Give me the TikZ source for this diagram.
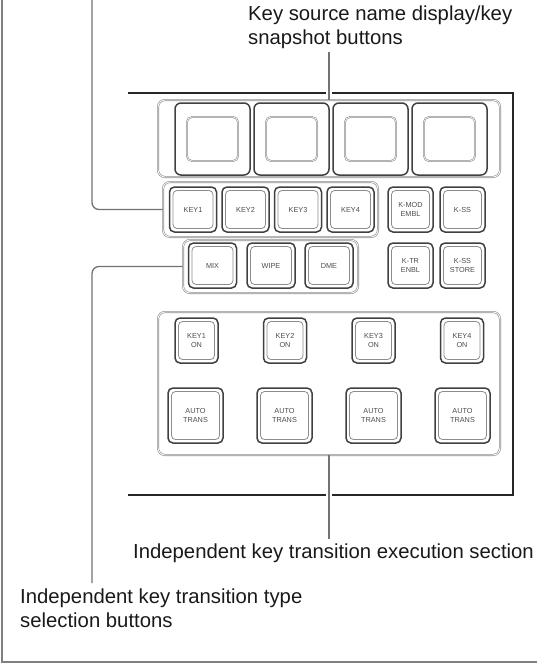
\documentclass[tikz,border=0pt]{standalone}
\usepackage{fontspec}
\setmainfont{Liberation Sans}

\tikzset{
  lbl/.style={font=\fontsize{20.3}{23.5}\selectfont, inner sep=0pt, align=left, text=black!90},
  lead/.style={draw=black!55, line width=1.3pt, preaction={draw=white, line width=6pt, shorten <=3pt, shorten >=3pt}},
  frame/.style={draw=black!85, line width=2.3pt},
  grp/.style={draw=black!45, double=white, double distance=0.8pt, line width=0.6pt, rounded corners=7pt, inner sep=0pt},
  btn/.style={draw=black!75, line width=1.5pt, rounded corners=5pt, inner sep=0pt, align=center,
    font=\fontsize{7.3}{8.3}\selectfont, text=black!70,
    path picture={\draw[black!45, line width=0.8pt, rounded corners=4pt]
      ([shift={(3.5pt,-3.5pt)}]path picture bounding box.north west) rectangle
      ([shift={(-3.5pt,3.5pt)}]path picture bounding box.south east);}},
  dispbtn/.style={draw=black!75, line width=1.5pt, rounded corners=6pt, inner sep=0pt,
    minimum width=75pt, minimum height=72pt,
    path picture={\draw[black!45, double=white, double distance=0.6pt, line width=0.6pt, rounded corners=5pt]
      ([shift={(12pt,-14pt)}]path picture bounding box.north west) rectangle
      ([shift={(-12pt,14pt)}]path picture bounding box.south east);}},
}

\begin{document}
\begin{tikzpicture}[x=1pt, y=-1pt]
  \useasboundingbox (0,0) rectangle (537,665);
  % page edge and panel outline
  \draw[draw=black!50, line width=1.4pt] (2,0) -- (2,662) -- (537,662);
  \draw[frame] (128,93) -- (513,93) -- (513,495) -- (128,495);

  % labels
  \node[lbl, anchor=north west] (srclbl) at (248,6) {Key source name display/key\\snapshot buttons};
  \node[lbl, anchor=north west] (execlbl) at (133,544) {Independent key transition execution section};
  \node[lbl, anchor=north west] (typelbl) at (20,589) {Independent key transition type\\selection buttons};

  % groups
  \node[grp, minimum width=342pt, minimum height=77pt] (dispgrp) at (329,138.5) {};
  \node[grp, minimum width=215pt, minimum height=55pt] (keygrp) at (270.5,209.5) {};
  \node[grp, minimum width=175pt, minimum height=53pt] (mixgrp) at (270.5,266.5) {};
  \node[grp, minimum width=342pt, minimum height=143pt] (execgrp) at (329,383.5) {};

  % leaders
  \coordinate (keytop) at (92,0);
  \coordinate (typetop) at (92,583);
  \draw[lead] ([yshift=-3pt]dispgrp.north |- srclbl.south) -- (dispgrp.north);
  \draw[lead] (execgrp.south) -- ([yshift=5pt]execgrp.south |- execlbl.north);
  \draw[lead, rounded corners=7pt] (keytop) |- (keygrp.west);
  \draw[lead, rounded corners=7pt] (typetop) |- (mixgrp.west);

  % display buttons
  \foreach \i/\x in {1/212.5, 2/291.5, 3/370.5, 4/449.5}
    \node[dispbtn] (disp\i) at (\x,139) {};

  % key select row
  \foreach \i/\x in {1/193, 2/245.5, 3/298, 4/350.5}
    \node[btn, minimum width=47pt, minimum height=45pt] (key\i) at (\x,209.5) {KEY\i};
  \node[btn, minimum width=45pt, minimum height=45pt] (kmod) at (410.5,209.5) {K-MOD\\EMBL};
  \node[btn, minimum width=45pt, minimum height=45pt] (kss) at (462.5,209.5) {K-SS};

  % transition type row
  \node[btn, minimum width=48pt, minimum height=45pt] (mix) at (212.5,265.5) {MIX};
  \node[btn, minimum width=48pt, minimum height=45pt] (wipe) at (271,265.5) {WIPE};
  \node[btn, minimum width=48pt, minimum height=45pt] (dme) at (329,265.5) {DME};
  \node[btn, minimum width=45pt, minimum height=45pt] (ktr) at (410.5,265.5) {K-TR\\ENBL};
  \node[btn, minimum width=45pt, minimum height=45pt] (ksstore) at (462.5,265.5) {K-SS\\STORE};

  % execution section
  \foreach \i/\x in {1/196.5, 2/285, 3/373.5, 4/462}
    \node[btn, minimum width=43pt, minimum height=45pt] (keyon\i) at (\x,340.5) {KEY\i\\ON};
  \foreach \i/\x in {1/195.5, 2/284.5, 3/373.5, 4/462.5}
    \node[btn, minimum width=55pt, minimum height=55pt] (auto\i) at (\x,415.5) {AUTO\\TRANS};
\end{tikzpicture}
\end{document}
